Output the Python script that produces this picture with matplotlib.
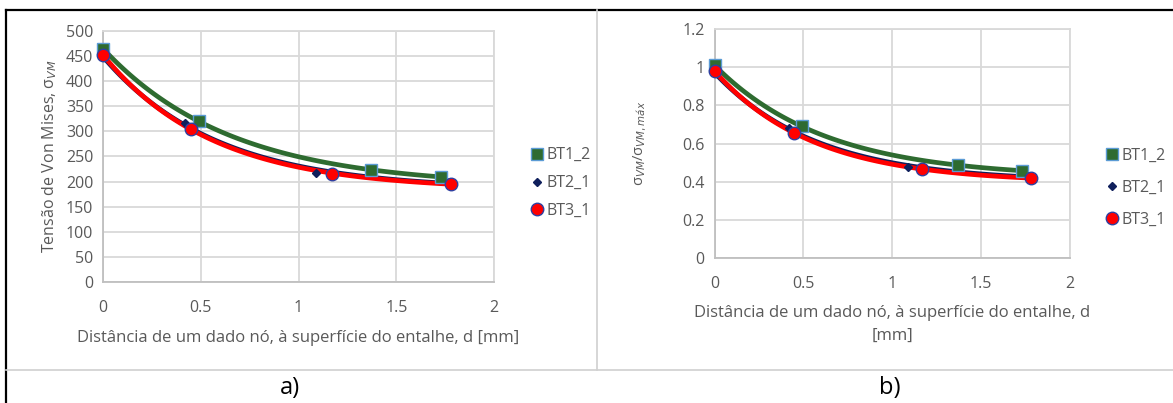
''' figure a) / b): Von Mises stress vs distance from notch surface'''

#%% import and data

import numpy as np
import matplotlib.pyplot as plt
from matplotlib.lines import Line2D

plt.rcParams['font.family'] = ['Open Sans', 'DejaVu Sans']

series = ['BT1_2', 'BT2_1', 'BT3_1']

# distance from notch surface, d [mm]
x_bt1 = [0.0, 0.49, 1.37, 1.73]
x_bt2 = [0.0, 0.42, 1.09, 1.77]
x_bt3 = [0.0, 0.45, 1.17, 1.78]

# a) Von Mises stress
s_bt1 = [465, 320, 224, 209]
s_bt2 = [448, 316, 218, 200]
s_bt3 = [452, 305, 215, 196]

# b) normalised stress
n_bt1 = [1.01, 0.69, 0.487, 0.457]
n_bt2 = [0.97, 0.68, 0.475, 0.43]
n_bt3 = [0.98, 0.655, 0.465, 0.419]

xticks = [0, 0.5, 1, 1.5, 2]
yticks_a = [0, 50, 100, 150, 200, 250, 300, 350, 400, 450, 500]
yticks_b = [0, 0.2, 0.4, 0.6, 0.8, 1.0, 1.2]

green = '#2E6B30'
navy = '#0F1F5C'
red = '#FF0000'
edge = '#5B9BD5'
grey_txt = '#595959'
grid_c = '#D9D9D9'
fs = 11.5

#%% figure

fig = plt.figure(figsize=(11.73, 4.03), dpi=100)

# table borders
fig.add_artist(Line2D([6/1173, 1], [1-10/403]*2, color='black', lw=1.6))
fig.add_artist(Line2D([6/1173]*2, [0, 1-10/403], color='black', lw=1.6))
fig.add_artist(Line2D([6/1173, 1], [1-370/403]*2, color='#D0D0D0', lw=1.2))
fig.add_artist(Line2D([597/1173]*2, [1-370/403, 1-10/403], color='#D0D0D0', lw=1.2))


def trend(ax, x, y, color, lw, z):
    # y = c + a*exp(-b*x), best b from a grid, a and c by least squares
    x = np.asarray(x)
    y = np.asarray(y)
    best = None
    for b in np.linspace(0.3, 5, 400):
        A = np.column_stack([np.ones_like(x), np.exp(-b*x)])
        coef, res, _, _ = np.linalg.lstsq(A, y, rcond=None)
        err = np.sum((A @ coef - y)**2)
        if best is None or err < best[0]:
            best = (err, b, coef)
    _, b, coef = best
    xx = np.linspace(x.min(), x.max(), 100)
    ax.plot(xx, coef[0] + coef[1]*np.exp(-b*xx), color=color, lw=lw, zorder=z)


def panel(ax, y1, y2, y3, yticks, ylim):
    trend(ax, x_bt1, y1, green, 3.4, 3)
    trend(ax, x_bt2, y2, navy, 3.4, 4)
    trend(ax, x_bt3, y3, red, 3.4, 5)
    ax.plot(x_bt1, y1, 's', color=green, mec=edge, mew=1, ms=9, ls='none', zorder=6, label=series[0])
    ax.plot(x_bt2, y2, 'D', color=navy, mec=navy, ms=4.5, ls='none', zorder=6, label=series[1])
    ax.plot(x_bt3, y3, 'o', color=red, mec='#2F3FA0', mew=1, ms=9, ls='none', zorder=7, label=series[2])
    ax.set_xlim(0, 2)
    ax.set_ylim(*ylim)
    ax.set_xticks(xticks)
    ax.set_xticklabels([f'{t:g}' for t in xticks])
    ax.set_yticks(yticks)
    ax.set_yticklabels([f'{t:g}' for t in yticks])
    ax.grid(True, color=grid_c, lw=1.3)
    ax.set_axisbelow(True)
    for s in ['top', 'right']:
        ax.spines[s].set_color(grid_c)
        ax.spines[s].set_linewidth(1.3)
    for s in ['left', 'bottom']:
        ax.spines[s].set_color('#BFBFBF')
        ax.spines[s].set_linewidth(1.3)
    ax.tick_params(length=0, colors=grey_txt, labelsize=fs, pad=7)
    ax.tick_params(axis='x', pad=13)
    for ln in ax.lines:
        ln.set_clip_on(False)


# a)
ax1 = fig.add_axes([103/1173, 1-282/403, 391/1173, 251/403])
panel(ax1, s_bt1, s_bt2, s_bt3, yticks_a, (0, 500))
ax1.set_ylabel('Tensão de Von Mises, σ$_{VM}$', color=grey_txt, fontsize=fs, labelpad=5)
ax1.set_xlabel('Distância de um dado nó, à superfície do entalhe, d [mm]', color=grey_txt,
               fontsize=12, labelpad=10)
ax1.legend(loc='center left', bbox_to_anchor=(1.06, 0.394), frameon=False, fontsize=fs,
           labelcolor=grey_txt, handlelength=0.6, handletextpad=0.3, labelspacing=0.75)

# b)
ax2 = fig.add_axes([714.5/1173, 1-258/403, 355.5/1173, 229/403])
panel(ax2, n_bt1, n_bt2, n_bt3, yticks_b, (0, 1.2))
ax2.set_ylabel('σ$_{VM}$/σ$_{VM,máx}$', color=grey_txt, fontsize=10.5, labelpad=24)
ax2.set_xlabel('Distância de um dado nó, à superfície do entalhe, d\n[mm]', color=grey_txt,
               fontsize=12, labelpad=9, linespacing=1.6)
ax2.legend(loc='center left', bbox_to_anchor=(1.065, 0.306), frameon=False, fontsize=fs,
           labelcolor=grey_txt, handlelength=0.6, handletextpad=0.3, labelspacing=1.0)

fig.text(290/1173, 1-388/403, 'a)', ha='center', va='center', fontsize=17)
fig.text(890/1173, 1-388/403, 'b)', ha='center', va='center', fontsize=17)

fig.savefig('out.png', dpi=100)
